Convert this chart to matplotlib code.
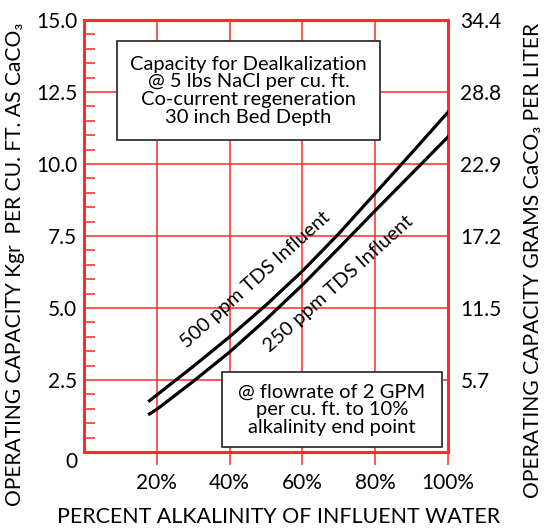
import matplotlib
matplotlib.use("Agg")
import matplotlib.pyplot as plt
from matplotlib.patches import Rectangle
from matplotlib.ticker import MultipleLocator
from matplotlib.transforms import ScaledTranslation

plt.rcParams['font.family'] = ['Lato', 'DejaVu Sans']

# data
alk_pct = [18, 20, 30, 40, 50, 60, 70, 80, 90, 100]
cap_500 = [1.78, 1.98, 2.97, 4.0, 5.1, 6.28, 7.58, 8.98, 10.38, 11.8]
cap_250 = [1.32, 1.48, 2.45, 3.47, 4.6, 5.8, 7.08, 8.38, 9.66, 10.94]

x_ticks = [20, 40, 60, 80, 100]
x_labels = ['20%', '40%', '60%', '80%', '100%']
y_ticks = [0, 2.5, 5, 7.5, 10, 12.5, 15]
y_labels = ['0', '2.5', '5.0', '7.5', '10.0', '12.5', '15.0']
y_right_labels = ['', '5.7', '11.5', '17.2', '22.9', '28.8', '34.4']

RED = '#ff2a2a'

fig = plt.figure(figsize=(5.44, 5.29), dpi=100)
ax = fig.add_axes([0.1544, 0.1456, 0.8235 - 0.1544, 0.9622 - 0.1456])
ax.set_xlim(0, 100)
ax.set_ylim(0, 15)

ax.set_xticks(x_ticks)
ax.set_xticklabels(x_labels, fontsize=15)
ax.set_yticks(y_ticks)
ax.set_yticklabels(y_labels, fontsize=15)
ax.yaxis.set_minor_locator(MultipleLocator(0.5))
ax.grid(True, which='major', color=RED, lw=1.1)
ax.set_axisbelow(True)
ax.tick_params(axis='x', which='major', direction='out', length=9, width=1.1,
               color=RED, pad=6)
ax.tick_params(axis='y', which='major', length=0, pad=5)
ax.tick_params(axis='y', which='minor', direction='in', length=8, width=1.1,
               color=RED, left=True, right=True)
for s in ax.spines.values():
    s.set_color(RED)
    s.set_linewidth(2.2)

# the "0" sits a little below the corner
lbl0 = ax.get_yticklabels()[0]
lbl0.set_transform(lbl0.get_transform() + ScaledTranslation(0, -0.08, fig.dpi_scale_trans))

ax2 = ax.twinx()
ax2.set_ylim(0, 15)
ax2.set_yticks(y_ticks)
ax2.set_yticklabels(y_right_labels, fontsize=15)
ax2.tick_params(axis='y', which='major', length=0, pad=9)
for s in ax2.spines.values():
    s.set_visible(False)

ax.plot(alk_pct, cap_500, color='black', lw=2.3, zorder=3)
ax.plot(alk_pct, cap_250, color='black', lw=2.3, zorder=3)

ax.text(47, 5.97, '500 ppm TDS Influent', rotation=42, fontsize=14.3,
        ha='center', va='center', rotation_mode='anchor')
ax.text(69.8, 5.83, '250 ppm TDS Influent', rotation=42, fontsize=14.3,
        ha='center', va='center', rotation_mode='anchor')

# note boxes
ax.add_patch(Rectangle((9.1, 10.83), 72.2, 3.44, facecolor='white',
                       edgecolor='#333333', lw=1.3, zorder=5))
ax.text(45.2, 12.55, 'Capacity for Dealkalization\n@ 5 lbs NaCl per cu. ft.\n'
        'Co-current regeneration\n30 inch Bed Depth', fontsize=14.5,
        ha='center', va='center', linespacing=1.05, zorder=6)

ax.add_patch(Rectangle((37.9, 0.17), 60.5, 2.61, facecolor='white',
                       edgecolor='#333333', lw=1.3, zorder=5))
ax.text(68.1, 1.47, '@ flowrate of 2 GPM\nper cu. ft. to 10%\nalkalinity end point',
        fontsize=14.5, ha='center', va='center', linespacing=1.05, zorder=6)

fig.text(279 / 544, 1 - 517 / 529, 'PERCENT ALKALINITY OF INFLUENT WATER',
         fontsize=15.4, ha='center', va='center')
fig.text(15 / 544, 1 - 264 / 529, 'OPERATING CAPACITY Kgr  PER CU. FT. AS CaCO\u2083',
         fontsize=15.1, ha='center', va='center', rotation=90)
fig.text(533 / 544, 1 - 260 / 529, 'OPERATING CAPACITY GRAMS CaCO\u2083 PER LITER',
         fontsize=15.2, ha='center', va='center', rotation=90)

fig.savefig('out.png', dpi=100)
